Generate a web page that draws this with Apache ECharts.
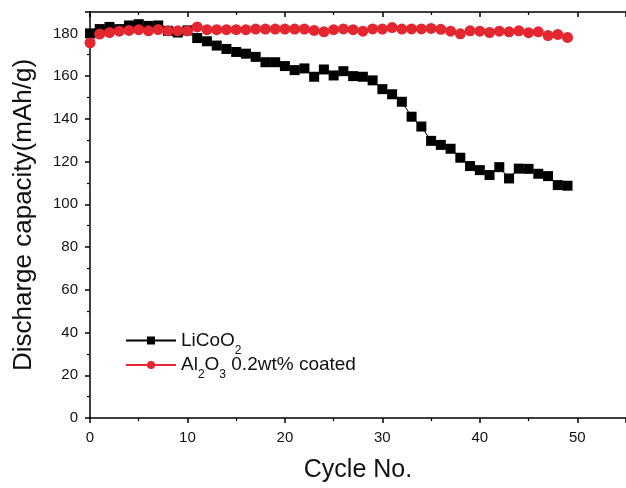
<!DOCTYPE html>
<html>
<head>
<meta charset="utf-8">
<script src="https://cdn.jsdelivr.net/npm/echarts@6/dist/echarts.min.js"></script>
<style>
  html, body { margin: 0; padding: 0; background: #fff; }
  #chart { width: 626px; height: 488px; }
</style>
</head>
<body>
<div id="chart"></div>
<script>
// 循环次数
const cycles = Array.from({ length: 50 }, (_, i) => i);
// LiCoO2 放电容量
const licoo2 = [
  180, 182, 183, 182, 183.7, 184.3, 183.5, 183.7, 181.2, 180.4,
  181.4, 177.8, 176.3, 174.3, 172.7, 171.3, 170.5, 169, 166.5, 166.5,
  164.7, 162.8, 163.6, 159.7, 163.1, 160.3, 162.3, 160, 159.7, 158,
  153.9, 151.5, 148, 141, 136.4, 129.7, 127.8, 126, 121.8, 117.9,
  116, 113.7, 117.4, 112.1, 116.7, 116.6, 114.3, 113.2, 109, 108.7
];
// Al2O3 0.2wt% 包覆
const coated = [
  175.5, 179.7, 180.4, 181, 181.4, 181.7, 181.2, 181.8, 181.2, 181.2,
  181.2, 183, 181.7, 181.7, 181.7, 181.7, 181.7, 182, 182, 182,
  182, 182, 182, 181.4, 180.7, 181.7, 182.1, 181.7, 181, 182.1,
  182, 182.7, 182, 182.1, 182.1, 182.3, 181.9, 181, 179.8, 181.2,
  181, 180.4, 181, 180.7, 181.2, 180.3, 180.7, 179, 179.5, 178.1
];
const seriesNames = ['LiCoO2', 'Al2O3 0.2wt% coated'];

const font = 'Liberation Sans, Arial, sans-serif';

let myChart = echarts.init(document.getElementById('chart'));
let option = {
  animation: false,
  backgroundColor: '#fff',
  grid: { left: 90, top: 12, bottom: 66, width: 545 },
  legend: {
    left: 125,
    top: 331,
    padding: 0,
    orient: 'vertical',
    itemWidth: 50,
    itemHeight: 10,
    itemGap: -1,
    data: seriesNames,
    formatter: function (name) {
      if (name === 'LiCoO2') return 'LiCoO{sub|2}';
      return 'Al{sub|2}O{sub|3} 0.2wt% coated';
    },
    textStyle: {
      fontFamily: font,
      fontSize: 19,
      color: '#111',
      rich: {
        sub: { fontFamily: font, fontSize: 12, color: '#111', padding: [20, 0, 0, 0] }
      }
    }
  },
  xAxis: [{
    type: 'value',
    min: 0,
    max: 55,
    interval: 10,
    name: 'Cycle No.',
    nameLocation: 'middle',
    nameGap: 40,
    nameTextStyle: { fontFamily: font, fontSize: 25, color: '#111' },
    axisLine: { onZero: false, lineStyle: { color: '#000', width: 1.5 } },
    axisTick: { show: true, inside: false, length: 5, lineStyle: { color: '#000', width: 1.5 } },
    minorTick: { show: true, splitNumber: 2, length: 3, lineStyle: { color: '#000', width: 1.2 } },
    axisLabel: { fontFamily: font, fontSize: 15, color: '#111', margin: 12, showMaxLabel: false },
    splitLine: { show: false }
  }, {
    type: 'value',
    position: 'top',
    min: 0,
    max: 55,
    interval: 10,
    axisLine: { onZero: false, lineStyle: { color: '#000', width: 1.5 } },
    axisTick: { show: true, inside: true, length: 5, lineStyle: { color: '#000', width: 1.5 } },
    minorTick: { show: true, splitNumber: 2, length: 3, lineStyle: { color: '#000', width: 1.2 } },
    axisLabel: { show: false },
    splitLine: { show: false }
  }],
  yAxis: {
    type: 'value',
    min: 0,
    max: 190,
    interval: 20,
    name: 'Discharge capacity(mAh/g)',
    nameLocation: 'middle',
    nameGap: 53,
    nameTextStyle: { fontFamily: font, fontSize: 26, color: '#111' },
    axisLine: { onZero: false, lineStyle: { color: '#000', width: 1.5 } },
    axisTick: { show: true, inside: false, length: 5, lineStyle: { color: '#000', width: 1.5 } },
    minorTick: { show: true, splitNumber: 2, length: 3, lineStyle: { color: '#000', width: 1.2 } },
    axisLabel: { fontFamily: font, fontSize: 15, color: '#111', margin: 12, showMaxLabel: false },
    splitLine: { show: false }
  },
  series: [{
    name: seriesNames[0],
    type: 'line',
    data: cycles.map((c, i) => [c, licoo2[i]]),
    symbol: 'rect',
    symbolSize: 10,
    itemStyle: { color: '#000' },
    lineStyle: { color: '#000', width: 1 },
    z: 2
  }, {
    name: seriesNames[1],
    type: 'line',
    data: cycles.map((c, i) => [c, coated[i]]),
    symbol: 'circle',
    symbolSize: 11,
    itemStyle: { color: '#e3262f' },
    lineStyle: { color: '#e3262f', width: 1 },
    z: 3
  }]
};

myChart.setOption(option);
window.addEventListener('resize', function () {
  myChart.resize();
});
</script>
</body>
</html>
